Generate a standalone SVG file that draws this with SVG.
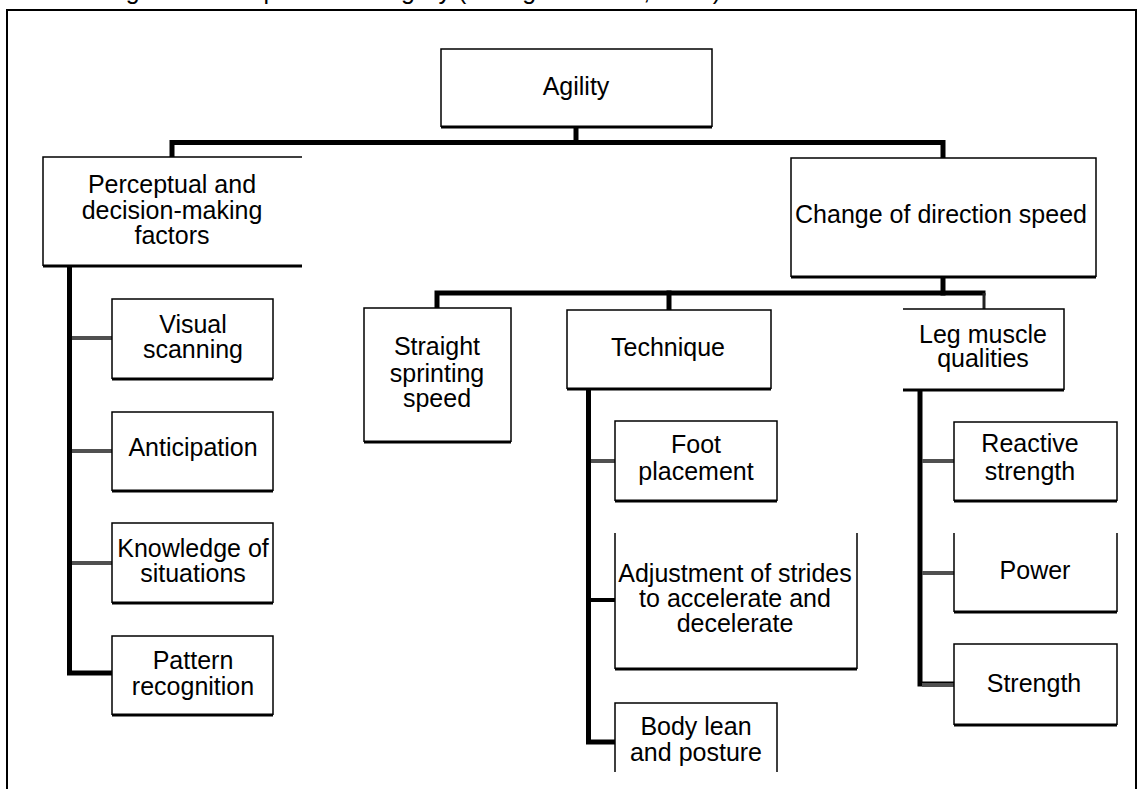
<svg xmlns="http://www.w3.org/2000/svg" width="1138" height="789" viewBox="0 0 1138 789">
<style>
.t{font-family:"Liberation Sans",Arial,sans-serif;font-size:25px;fill:#000;text-anchor:middle}
.cap{font-family:"Liberation Sans",Arial,sans-serif;font-size:25px;fill:#000}
.e{fill:none;stroke:#000;stroke-width:1.5}
.b{fill:none;stroke:#000;stroke-width:3}
.bg{fill:#fff;stroke:none}
.c{fill:none;stroke:#000;stroke-width:5;stroke-linejoin:miter;stroke-linecap:square}
.g{fill:none;stroke:#505050;stroke-width:4}
.k{fill:none;stroke:#000;stroke-width:4}
</style>
<rect x="0" y="0" width="1138" height="789" fill="#fff"/>
<text class="cap" x="105" y="-1">Figure 1. Components of agility (Young &amp; Farrow, 2006)</text>
<path d="M7,800 V10 H1136 V800" fill="none" stroke="#000" stroke-width="2"/>
<g id="connectors">
<path class="c" d="M576,127 V142"/>
<path class="c" d="M172,157 V142.5 H943 V158"/>
<path class="c" d="M943,277 V293"/>
<path class="c" d="M437,308 V293 H983"/>
<path d="M984,293 V309" fill="none" stroke="#222" stroke-width="3"/>
<path class="c" d="M669,293 V310"/>
<path class="c" d="M69.5,266 V673 H112"/>
<path class="g" d="M72,338 H112"/>
<path class="g" d="M72,451 H112"/>
<path class="g" d="M72,563 H112"/>
<path class="c" d="M588.5,389 V742 H615"/>
<path class="g" d="M591,461 H615"/>
<path class="k" d="M591,600 H615"/>
<path class="c" d="M920,390 V684 H954"/>
<path class="g" d="M922,461 H954"/>
<path class="g" d="M922,573 H954"/>
<path class="g" d="M922,685 H954"/>
</g>
<g id="agility">
<rect class="bg" x="441" y="49" width="271" height="78"/>
<path class="e" d="M441,127 V49 H712 V127"/><path class="b" d="M441,127 H712"/>
<text class="t" x="576" y="95">Agility</text>
</g>
<g id="perceptual">
<rect class="bg" x="43" y="157" width="259" height="109"/>
<path class="e" d="M302,157 H43 V266"/><path class="b" d="M43,266 H302"/>
<text class="t" x="172" y="193">Perceptual and</text>
<text class="t" x="172" y="219">decision-making</text>
<text class="t" x="172" y="244">factors</text>
</g>
<g id="change">
<rect class="bg" x="791" y="158" width="305" height="119"/>
<path class="e" d="M791,277 V158 H1096 V277"/><path class="b" d="M791,277 H1096"/>
<text class="t" x="941" y="223">Change of direction speed</text>
</g>
<g id="straight">
<rect class="bg" x="364" y="308" width="147" height="134"/>
<path class="e" d="M364,442 V308 H511 V442"/><path class="b" d="M364,442 H511"/>
<text class="t" x="437" y="355">Straight</text>
<text class="t" x="437" y="382">sprinting</text>
<text class="t" x="437" y="407">speed</text>
</g>
<g id="technique">
<rect class="bg" x="567" y="310" width="204" height="79"/>
<path class="e" d="M567,389 V310 H771 V389"/><path class="b" d="M567,389 H771"/>
<text class="t" x="668" y="356">Technique</text>
</g>
<g id="leg">
<rect class="bg" x="903" y="309" width="161" height="81"/>
<path class="e" d="M903,309 H1064 V390"/><path class="b" d="M903,390 H1064"/>
<text class="t" x="983" y="343">Leg muscle</text>
<text class="t" x="983" y="367">qualities</text>
</g>
<g id="visual">
<rect class="bg" x="112" y="299" width="161" height="80"/>
<path class="e" d="M112,379 V299 H273 V379"/><path class="b" d="M112,379 H273"/>
<text class="t" x="193" y="333">Visual</text>
<text class="t" x="193" y="358">scanning</text>
</g>
<g id="anticipation">
<rect class="bg" x="112" y="412" width="161" height="79"/>
<path class="e" d="M112,491 V412 H273 V491"/><path class="b" d="M112,491 H273"/>
<text class="t" x="193" y="456">Anticipation</text>
</g>
<g id="knowledge">
<rect class="bg" x="112" y="523" width="161" height="80"/>
<path class="e" d="M112,603 V523 H273 V603"/><path class="b" d="M112,603 H273"/>
<text class="t" x="193" y="557">Knowledge of</text>
<text class="t" x="193" y="582">situations</text>
</g>
<g id="pattern">
<rect class="bg" x="112" y="636" width="161" height="79"/>
<path class="e" d="M112,715 V636 H273 V715"/><path class="b" d="M112,715 H273"/>
<text class="t" x="193" y="669">Pattern</text>
<text class="t" x="193" y="695">recognition</text>
</g>
<g id="foot">
<rect class="bg" x="615" y="421" width="162" height="80"/>
<path class="e" d="M615,501 V421 H777 V501"/><path class="b" d="M615,501 H777"/>
<text class="t" x="696" y="453">Foot</text>
<text class="t" x="696" y="480">placement</text>
</g>
<g id="adjustment">
<rect class="bg" x="615" y="533" width="242" height="136"/>
<path class="e" d="M615,533 V669 M857,533 V669"/><path class="b" d="M615,669 H857"/>
<text class="t" x="735" y="582">Adjustment of strides</text>
<text class="t" x="735" y="607">to accelerate and</text>
<text class="t" x="735" y="632">decelerate</text>
</g>
<g id="body">
<rect class="bg" x="615" y="703" width="162" height="69"/>
<path class="e" d="M615,772 V703 H777 V772"/>
<text class="t" x="696" y="735">Body lean</text>
<text class="t" x="696" y="761">and posture</text>
</g>
<g id="reactive">
<rect class="bg" x="954" y="422" width="163" height="79"/>
<path class="e" d="M954,501 V422 H1117 V501"/><path class="b" d="M954,501 H1117"/>
<text class="t" x="1030" y="452">Reactive</text>
<text class="t" x="1030" y="480">strength</text>
</g>
<g id="power">
<rect class="bg" x="954" y="533" width="163" height="79"/>
<path class="e" d="M954,533 V612 M1117,533 V612"/><path class="b" d="M954,612 H1117"/>
<text class="t" x="1035" y="579">Power</text>
</g>
<g id="strength">
<rect class="bg" x="954" y="644" width="163" height="81"/>
<path class="e" d="M954,725 V644 H1117 V725"/><path class="b" d="M954,725 H1117"/>
<text class="t" x="1034" y="692">Strength</text>
</g>
</svg>
